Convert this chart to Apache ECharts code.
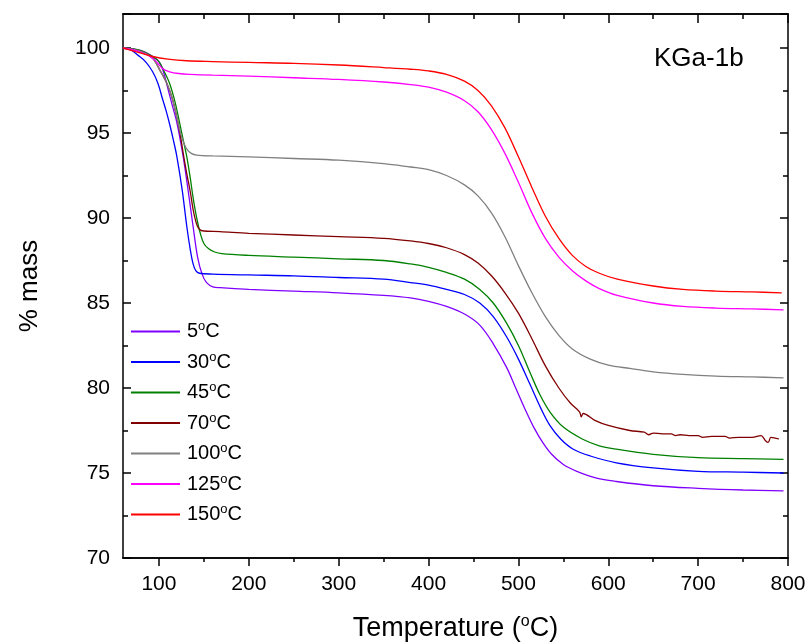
<!DOCTYPE html>
<html>
<head>
<meta charset="utf-8">
<script src="https://cdn.jsdelivr.net/npm/echarts@6/dist/echarts.min.js"></script>
<style>
    html, body { margin: 0; padding: 0; background: #fff; }
    #chart { width: 807px; height: 644px; }
</style>
</head>
<body>
<div id="chart"></div>
<script>
// series names and colours (Origin palette)
const seriesNames = ['5°C', '30°C', '45°C', '70°C', '100°C', '125°C', '150°C']
const colors = ['#8000ff', '#0000ff', '#008000', '#800000', '#808080', '#ff00ff', '#ff0000']

const xMajor = [100, 200, 300, 400, 500, 600, 700, 800]
const xMinor = [150, 250, 350, 450, 550, 650, 750]

// [temperature, % mass]
const s5 = [[60, 100.0], [70, 99.95], [80, 99.85], [90, 99.6], [100, 99.2], [105, 98.6], [110, 97.6], [115, 96.6], [120, 95.6], [127, 93.6], [132, 91.8], [138, 89.5], [143, 87.7], [148, 86.7], [153, 86.2], [160, 85.95], [168, 85.9], [200, 85.8], [250, 85.7], [300, 85.6], [350, 85.45], [380, 85.3], [400, 85.1], [420, 84.8], [440, 84.35], [457, 83.7], [472, 82.6], [487, 81.2], [497, 80.0], [507, 78.8], [517, 77.7], [527, 76.8], [537, 76.1], [550, 75.5], [565, 75.1], [587, 74.7], [609, 74.5], [650, 74.25], [700, 74.1], [750, 74.0], [795, 73.95]]
const s30 = [[60, 100.0], [65, 99.95], [70, 99.85], [76, 99.6], [85, 99.2], [93, 98.6], [99, 97.9], [104, 97.0], [108, 96.3], [112, 95.5], [116, 94.6], [120, 93.6], [126, 91.6], [131, 89.5], [135, 88.1], [138, 87.3], [141, 86.9], [145, 86.75], [160, 86.7], [200, 86.65], [250, 86.6], [300, 86.5], [350, 86.4], [380, 86.2], [400, 86.05], [420, 85.8], [440, 85.5], [457, 85.0], [472, 84.2], [487, 83.0], [500, 81.7], [513, 80.2], [525, 78.8], [535, 77.8], [547, 77.0], [561, 76.4], [580, 76.0], [609, 75.6], [650, 75.3], [700, 75.1], [750, 75.05], [795, 75.0]]
const s45 = [[60, 100.0], [80, 99.85], [93, 99.5], [100, 99.2], [106, 98.6], [112, 97.9], [118, 96.8], [123, 95.6], [127, 94.6], [131, 93.6], [135, 92.3], [138, 91.2], [142, 90.0], [146, 89.1], [150, 88.5], [155, 88.2], [162, 88.0], [170, 87.9], [200, 87.8], [250, 87.7], [300, 87.6], [350, 87.5], [380, 87.3], [400, 87.1], [420, 86.8], [440, 86.4], [457, 85.8], [472, 85.0], [487, 83.8], [500, 82.5], [513, 80.9], [524, 79.6], [535, 78.6], [550, 77.7], [571, 77.0], [590, 76.6], [609, 76.4], [650, 76.1], [700, 75.9], [750, 75.85], [795, 75.8]]
const s70 = [[60, 100.0], [80, 99.8], [93, 99.4], [101, 98.7], [109, 97.9], [115, 97.0], [120, 95.9], [124, 94.8], [127, 93.8], [131, 92.6], [135, 91.5], [138, 90.5], [141, 89.8], [144, 89.4], [148, 89.25], [168, 89.2], [200, 89.1], [250, 89.0], [300, 88.9], [350, 88.8], [380, 88.65], [400, 88.5], [420, 88.25], [440, 87.85], [455, 87.35], [470, 86.6], [485, 85.6], [500, 84.4], [515, 82.9], [530, 81.3], [545, 80.0], [558, 79.1], [568, 78.6], [570, 78.3], [572, 78.5], [585, 78.1], [600, 77.8], [624, 77.5], [640, 77.4], [645, 77.25], [650, 77.35], [660, 77.3], [670, 77.3], [675, 77.2], [680, 77.25], [690, 77.2], [700, 77.2], [705, 77.1], [715, 77.15], [730, 77.15], [735, 77.05], [745, 77.1], [760, 77.1], [770, 77.2], [775, 76.9], [778, 76.8], [781, 77.1], [790, 77.0]]
const s100 = [[60, 100.0], [80, 99.8], [93, 99.4], [101, 98.7], [109, 97.9], [115, 97.0], [120, 95.9], [124, 95.0], [127, 94.5], [131, 94.05], [136, 93.8], [142, 93.7], [160, 93.65], [200, 93.6], [250, 93.5], [300, 93.4], [350, 93.2], [380, 93.0], [400, 92.85], [420, 92.5], [440, 91.95], [455, 91.3], [470, 90.3], [485, 88.9], [500, 87.2], [515, 85.6], [530, 84.2], [545, 83.1], [560, 82.3], [580, 81.7], [600, 81.35], [624, 81.15], [650, 80.95], [683, 80.8], [720, 80.7], [760, 80.65], [795, 80.6]]
const s125 = [[60, 100.0], [70, 99.9], [80, 99.75], [90, 99.5], [97, 99.2], [104, 98.8], [112, 98.6], [122, 98.5], [135, 98.45], [160, 98.4], [200, 98.35], [250, 98.25], [300, 98.15], [350, 98.0], [380, 97.85], [400, 97.7], [420, 97.4], [440, 96.9], [455, 96.25], [470, 95.2], [485, 93.8], [500, 92.1], [515, 90.3], [530, 88.8], [545, 87.7], [560, 86.9], [575, 86.3], [590, 85.85], [610, 85.45], [650, 85.0], [683, 84.8], [720, 84.7], [760, 84.65], [795, 84.6]]
const s150 = [[60, 100.0], [70, 99.85], [80, 99.7], [93, 99.5], [110, 99.35], [131, 99.25], [160, 99.2], [200, 99.15], [250, 99.1], [300, 99.0], [350, 98.85], [380, 98.75], [400, 98.65], [420, 98.45], [440, 98.05], [455, 97.5], [470, 96.6], [485, 95.3], [500, 93.6], [515, 91.8], [530, 90.1], [545, 88.8], [560, 87.8], [575, 87.15], [590, 86.75], [610, 86.4], [650, 86.0], [683, 85.8], [720, 85.7], [760, 85.65], [793, 85.6]]

const seriesData = [s5, s30, s45, s70, s100, s125, s150]

const FONT = 'Liberation Sans, Arial, sans-serif'
const sup = { fontSize: 13, fontFamily: FONT, color: '#000', padding: [0, 0, 10, 0] }

const chart = echarts.init(document.getElementById('chart'))

function xAxisDef (pos, values, len, inside, showLabel) {
    return {
        type: 'value',
        position: pos,
        min: 60,
        max: 800,
        axisLine: { show: true, onZero: false, lineStyle: { color: '#000', width: 1.5 } },
        axisTick: { show: true, customValues: values, inside: inside, length: len, lineStyle: { color: '#000', width: 1.5 } },
        axisLabel: showLabel ? { show: true, customValues: values, color: '#000', fontSize: 21, fontFamily: FONT, margin: 16 } : { show: false },
        splitLine: { show: false }
    }
}

function yAxisDef (pos, showLabel) {
    return {
        type: 'value',
        position: pos,
        min: 70,
        max: 102,
        interval: 5,
        axisLine: { show: true, onZero: false, lineStyle: { color: '#000', width: 1.5 } },
        axisTick: { show: true, inside: true, length: 8, lineStyle: { color: '#000', width: 1.5 } },
        minorTick: { show: true, splitNumber: 2, length: 5, lineStyle: { color: '#000', width: 1.5 } },
        axisLabel: showLabel ? { show: true, color: '#000', fontSize: 21, fontFamily: FONT, margin: 13, showMaxLabel: false } : { show: false },
        splitLine: { show: false },
        minorSplitLine: { show: false }
    }
}

const xBottom = xAxisDef('bottom', xMajor, 8, false, true)
xBottom.name = 'Temperature ({sup|o}C)'
xBottom.nameLocation = 'middle'
xBottom.nameGap = 56
xBottom.nameTextStyle = { color: '#000', fontSize: 27, fontFamily: FONT, rich: { sup: Object.assign({}, sup, { fontSize: 16, padding: [0, 0, 13, 0] }) } }

const yLeft = yAxisDef('left', true)
yLeft.name = '% mass'
yLeft.nameLocation = 'middle'
yLeft.nameGap = 80
yLeft.nameTextStyle = { color: '#000', fontSize: 26, fontFamily: FONT }

const option = {
    animation: false,
    backgroundColor: '#fff',
    color: colors,
    grid: { left: 123, right: 19, top: 14, bottom: 86, containLabel: false, outerBoundsMode: 'none' },
    title: {
        text: 'KGa-1b',
        left: 654,
        top: 46,
        padding: 0,
        textStyle: { color: '#000', fontSize: 26, fontWeight: 'normal', fontFamily: FONT }
    },
    legend: {
        orient: 'vertical',
        left: 131,
        top: 320,
        padding: 0,
        itemWidth: 49,
        itemHeight: 2,
        itemGap: 9,
        icon: 'rect',
        data: seriesNames,
        formatter: name => name.replace('°', '{sup|o}'),
        textStyle: { color: '#000', fontSize: 20, fontFamily: FONT, lineHeight: 20, padding: [0, 0, 0, 2], rich: { sup: sup } }
    },
    xAxis: [
        xBottom,
        xAxisDef('bottom', xMinor, 4, false, false),
        xAxisDef('top', xMajor, 9, true, false),
        xAxisDef('top', xMinor, 5, true, false)
    ],
    yAxis: [yLeft, yAxisDef('right', false)],
    series: seriesNames.map((name, i) => ({
        name: name,
        type: 'line',
        data: seriesData[i],
        smooth: 0.35,
        showSymbol: false,
        symbol: 'none',
        lineStyle: { width: 1.3, color: colors[i] },
        itemStyle: { color: colors[i] },
        z: 2 + i
    }))
}

chart.setOption(option)
</script>
</body>
</html>
